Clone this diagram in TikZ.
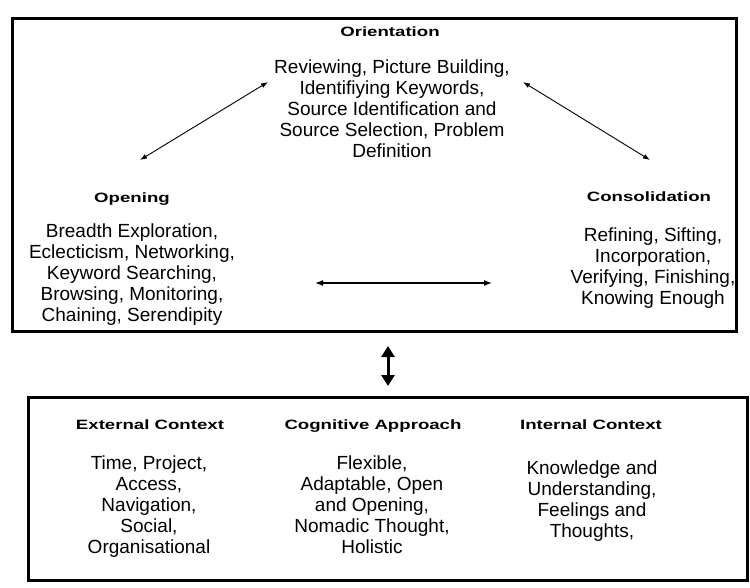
\documentclass[tikz,border=0pt]{standalone}
\usepackage{fontspec}
\setmainfont{Liberation Sans}
\newfontfamily\titlefont[FakeStretch=1.38]{Liberation Sans}
\usetikzlibrary{arrows.meta}
\tikzset{
  ttl/.style={font=\titlefont\bfseries\fontsize{13.5}{15}\selectfont, anchor=base, inner sep=0pt},
  body/.style={font=\fontsize{19}{21}\selectfont, align=center, anchor=north, inner sep=0pt},
  frame/.style={draw=black, line width=3pt},
  link/.style={{Latex[length=7pt,width=5pt]}-{Latex[length=7pt,width=5pt]}, line width=0.9pt},
  hlink/.style={{Latex[length=8pt,width=6pt]}-{Latex[length=8pt,width=6pt]}, line width=1.4pt},
  biglink/.style={{Triangle[length=11pt,width=13pt]}-{Triangle[length=11pt,width=13pt]}, line width=3pt}
}
\begin{document}
\begin{tikzpicture}[x=1pt,y=-1pt]
\useasboundingbox (0,0) rectangle (750,587);
\draw[frame] (12,18) rectangle (736,331);
\draw[frame] (28,397) rectangle (747,580);

\node[ttl] (ot) at (390,36) {Orientation};
\node[body] (ob) at (392,60) {Reviewing, Picture Building,\\Identifiying Keywords,\\Source Identification and\\Source Selection, Problem\\Definition};

\node[ttl] (opt) at (132,202.5) {Opening};
\node[body] (opb) at (132,224) {Breadth Exploration,\\Eclecticism, Networking,\\Keyword Searching,\\Browsing, Monitoring,\\Chaining, Serendipity};

\node[ttl] (ct) at (649,201.5) {Consolidation};
\node[body] (cb) at (653,228) {Refining, Sifting,\\Incorporation,\\Verifying, Finishing,\\Knowing Enough};

\coordinate (a1) at (140,160);
\coordinate (a2) at (268,82);
\coordinate (b1) at (523,82);
\coordinate (b2) at (650,160);
\coordinate (c1) at (315,283);
\coordinate (c2) at (492,283);
\draw[link] (a1) -- (a2);
\draw[link] (b1) -- (b2);
\draw[hlink] (c1) -- (c2);

\coordinate (v1) at (388,346);
\coordinate (v2) at (388,386);
\draw[biglink] (v1) -- (v2);

\node[ttl] (et) at (150,429) {External Context};
\node[body] (eb) at (149,455.5) {Time, Project,\\Access,\\Navigation,\\Social,\\Organisational};

\node[ttl] (cat) at (373,429) {Cognitive Approach};
\node[body] (cab) at (372,455.5) {Flexible,\\Adaptable, Open\\and Opening,\\Nomadic Thought,\\Holistic};

\node[ttl] (it) at (591,429) {Internal Context};
\node[body] (ib) at (592,460.5) {Knowledge and\\Understanding,\\Feelings and\\Thoughts,};
\end{tikzpicture}
\end{document}
